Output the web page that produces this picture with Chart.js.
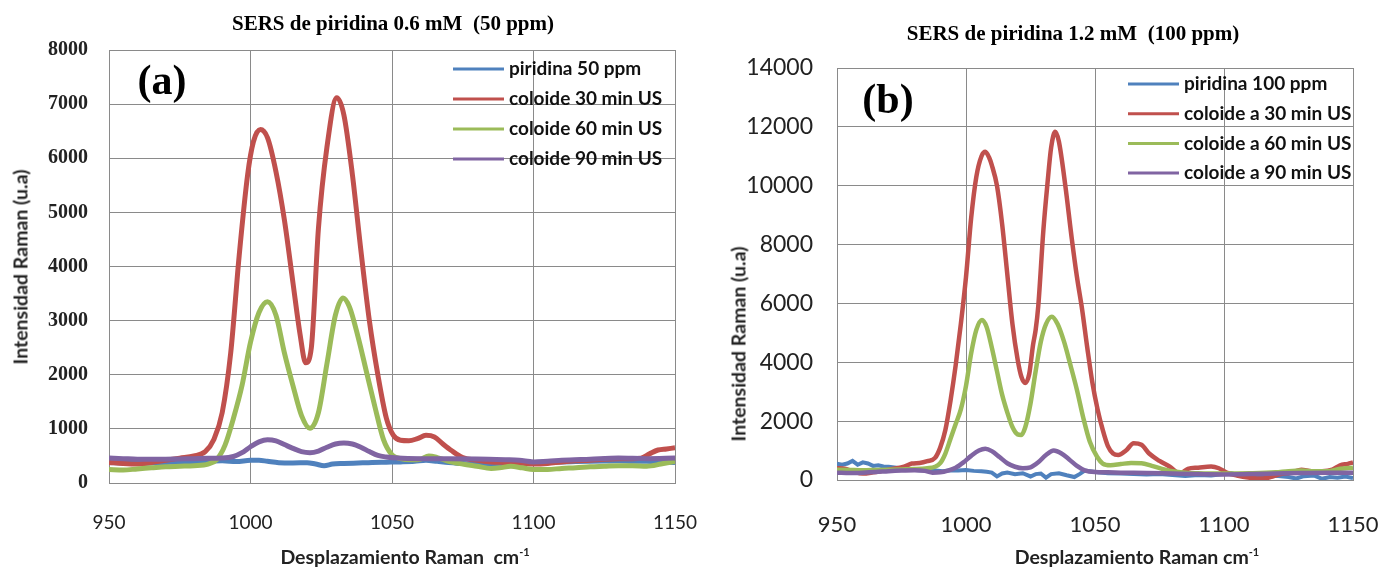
<!DOCTYPE html>
<html>
<head>
<meta charset="utf-8">
<script src="https://cdn.jsdelivr.net/npm/chart.js@4.4.1/dist/chart.umd.min.js"></script>
<style>
  body { margin:0; background:#fff; width:1381px; height:568px; position:relative; overflow:hidden; }
  canvas { position:absolute; top:0; }
  .t { position:absolute; white-space:nowrap; color:#000; }
  .title { font-family:"Liberation Serif", serif; font-weight:bold; font-size:21px; transform:translate(-50%,-50%); }
  .axt { font-family:Lato, sans-serif; font-weight:bold; font-size:19.5px; color:#222; }
  .panel { font-family:"Liberation Serif", serif; font-weight:bold; font-size:42px; transform:translate(-50%,-50%); }
  sup { font-size:11px; }
</style>
</head>
<body>
<canvas id="chartA" width="700" height="568" style="left:0"></canvas>
<canvas id="chartB" width="681" height="568" style="left:700px"></canvas>

<div class="t title" style="left:393px; top:23px;">SERS de piridina 0.6 mM&nbsp; (50 ppm)</div>
<div class="t title" style="left:1073px; top:33px;">SERS de piridina 1.2 mM&nbsp; (100 ppm)</div>
<div class="t panel" style="left:162px; top:80px;">(a)</div>
<div class="t panel" style="left:888px; top:99px;">(b)</div>
<div class="t axt" style="left:20px; top:267px; transform:translate(-50%,-50%) rotate(-90deg);">Intensidad Raman (u.a)</div>
<div class="t axt" style="left:738px; top:344px; transform:translate(-50%,-50%) rotate(-90deg);">Intensidad Raman (u.a)</div>
<div class="t axt" style="left:405px; top:556px; transform:translate(-50%,-50%);">Desplazamiento Raman&nbsp; cm<sup>-1</sup></div>
<div class="t axt" style="left:1137px; top:556px; transform:translate(-50%,-50%);">Desplazamiento Raman cm<sup>-1</sup></div>

<script>
// ---- panel (a): 0.6 mM (50 ppm) ----
var labelsA = ['piridina 50 ppm', 'coloide 30 min US', 'coloide 60 min US', 'coloide 90 min US'];

var aBlueX = [950,955,960,965,970,975,980,985,990,995,1000,1003,1006,1010,1015,1020,1023,1026,1029,1033,1038,1043,1048,1053,1058,1062,1066,1070,1075,1080,1085,1090,1095,1100,1105,1110,1115,1120,1125,1130,1135,1140,1145,1150];
var aBlueY = [380,370,360,370,380,390,395,400,410,395,420,420,400,375,370,375,350,320,350,360,370,380,385,390,400,420,400,380,360,350,350,360,370,380,390,390,395,400,405,410,400,400,390,380];

var aRedX = [950,955,960,965,970,975,980,984,987,990,993,996,999,1001,1003.5,1006,1009,1012,1015,1017.5,1019.5,1021.5,1024,1027,1030.5,1033,1036,1039,1042,1045,1048,1050.5,1053,1056,1059,1062,1065,1068,1071,1075,1080,1085,1090,1095,1100,1105,1110,1115,1120,1125,1130,1135,1138,1141,1144,1147,1150];
var aRedY = [380,360,350,380,420,460,500,580,800,1300,2400,4200,5700,6300,6530,6380,5750,4850,3700,2750,2220,2500,4700,6200,7120,6800,5700,4300,3000,2000,1200,880,790,780,820,880,850,720,600,470,420,390,380,370,350,360,390,410,420,440,450,450,460,540,610,630,650];

var aGreenX = [950,955,960,965,970,975,980,985,988,991,994,997,1000,1003,1006,1009,1012,1015,1018,1021,1024,1027,1030,1032.7,1035,1038,1041,1044,1047,1050,1053,1057,1060,1063,1066,1070,1075,1080,1085,1088,1092,1096,1100,1105,1110,1115,1120,1125,1130,1135,1140,1145,1150];
var aGreenY = [250,240,260,280,300,310,320,350,430,700,1200,1800,2600,3150,3350,3100,2400,1800,1250,1010,1300,2200,3100,3420,3250,2700,2050,1400,800,520,450,430,440,500,470,400,350,310,270,280,310,280,250,250,270,280,300,310,320,320,310,350,400];

var aPurpleX = [950,955,960,965,970,975,980,985,990,994,997,1000,1003,1006,1009,1012,1015,1018,1021,1024,1027,1030,1033,1036,1039,1042,1045,1048,1052,1060,1070,1080,1090,1095,1100,1105,1110,1120,1130,1140,1150];
var aPurpleY = [460,450,440,440,440,445,450,455,460,490,560,670,760,800,780,710,640,580,560,590,660,720,740,720,660,580,510,480,460,450,450,445,430,420,390,400,420,440,460,450,460];

var ticksA = [950, 1000, 1050, 1100, 1150];

// ---- panel (b): 1.2 mM (100 ppm) ----
var labelsB = ['piridina 100 ppm', 'coloide a 30 min US', 'coloide a 60 min US', 'coloide a 90 min US'];

var bBlueX = [950,952,954,956,958,960,962,964,966,968,970,973,976,979,982,985,988,991,994,997,1000,1003,1006,1008,1010,1012,1014,1016,1019,1022,1025,1027,1029,1031,1033,1036,1039,1042,1044,1046,1048,1051,1055,1060,1065,1070,1075,1080,1085,1090,1095,1100,1103,1106,1110,1115,1120,1125,1128,1131,1135,1138,1141,1144,1147,1150];
var bBlueY = [550,520,560,650,520,600,560,480,500,460,450,420,380,350,330,340,320,300,330,320,340,310,300,280,250,120,220,250,200,230,120,200,220,80,200,230,160,100,200,320,300,260,230,220,200,190,200,170,140,170,150,200,230,150,160,120,140,100,50,130,150,40,100,80,120,70];

var bRedX = [950,953,956,960,964,968,972,976,979,982,985,988,990,992,994,996,998,1000,1002,1004,1006,1007.5,1009,1010,1012,1014,1016,1018,1020,1021.5,1023,1024.5,1026,1027,1028,1030,1031.5,1033,1034.6,1036,1038.5,1041,1043,1045,1047,1049,1051,1053,1055,1057,1059,1062,1065,1068,1071,1075,1079,1083,1086,1090,1095,1098,1101,1105,1110,1115,1118,1122,1126,1130,1134,1138,1142,1145,1148,1150];
var bRedY = [400,380,300,220,260,320,380,450,560,580,640,750,1100,1700,2700,3900,5300,6900,8900,10300,11000,11150,10950,10700,10000,8700,7000,5300,4100,3500,3300,3600,4600,5100,5900,8500,10000,11300,11830,11500,10000,8200,6900,5800,4500,3300,2400,1700,1150,900,850,1000,1250,1200,900,650,450,220,380,420,460,400,250,150,80,50,100,200,250,350,300,300,350,500,550,600];

var bGreenX = [950,955,960,965,970,975,980,985,988,990,992,994,996,998,1000,1002,1004,1006.2,1008,1010,1012,1014,1016,1018,1020,1021.4,1023,1025,1027,1029,1031,1033.3,1035.5,1038,1040.5,1043,1045.5,1048,1050.8,1053,1056,1060,1064,1068,1072,1076,1080,1085,1090,1100,1110,1120,1125,1130,1135,1140,1145,1150];
var bGreenY = [350,340,330,340,350,360,370,400,450,570,900,1400,1900,2400,3200,4300,5100,5440,5200,4500,3700,2900,2300,1800,1550,1530,1800,2600,3700,4700,5300,5550,5300,4700,3900,3060,2100,1300,790,560,500,540,580,570,480,380,300,250,230,220,230,260,300,320,300,300,380,420];

var bPurpleX = [950,955,960,965,970,975,980,984,987,990,993,996,999,1002,1005,1007.5,1010,1013,1016,1019,1022,1025,1028,1031,1034,1037,1040,1043,1046,1050,1055,1060,1070,1080,1090,1100,1110,1120,1130,1140,1150];
var bPurpleY = [250,240,250,270,300,320,330,310,250,260,320,420,600,820,1000,1060,980,780,570,450,400,430,600,850,1000,900,700,480,330,270,260,250,240,220,200,190,200,220,240,250,250];

var ticksB = [950, 1000, 1050, 1100, 1150];

var colors = ['#4F81BD', '#C0504D', '#9BBB59', '#8064A2'];

function pts(xs, ys) {
    var out = [];
    for (var i = 0; i < xs.length; i++) {
        out.push({x: xs[i], y: ys[i]});
    }
    return out;
}

function series(label, xs, ys, color, order, width, smooth) {
    return {
        label: label,
        data: pts(xs, ys),
        borderColor: color,
        backgroundColor: color,
        borderWidth: width,
        pointRadius: 0,
        fill: false,
        order: order,
        tension: smooth ? 0.4 : 0,
        cubicInterpolationMode: smooth ? 'monotone' : 'default'
    };
}

// legend drawn inside the plot, like the Excel one
var insideLegend = {
    id: 'insideLegend',
    afterDatasetsDraw: function(chart, args, opts) {
        var ctx = chart.ctx;
        ctx.save();
        ctx.font = opts.font;
        ctx.textBaseline = 'middle';
        ctx.textAlign = 'left';
        for (var i = 0; i < opts.labels.length; i++) {
            var y = opts.y + i * opts.step;
            ctx.strokeStyle = colors[i];
            ctx.lineWidth = 3;
            ctx.beginPath();
            ctx.moveTo(opts.x, y);
            ctx.lineTo(opts.x + opts.len, y);
            ctx.stroke();
            ctx.fillStyle = '#111';
            ctx.fillText(opts.labels[i], opts.x + opts.len + 5, y);
        }
        ctx.restore();
    }
};

function makeChart(id, sets, yMax, yStep, ticks, geo, fonts, legend) {
    var ctx = document.getElementById(id).getContext('2d');
    return new Chart(ctx, {
        type: 'line',
        data: { datasets: sets },
        plugins: [insideLegend],
        options: {
            responsive: false,
            animation: false,
            devicePixelRatio: 1,
            layout: { padding: { top: geo.top, right: geo.right, bottom: 0, left: 0 } },
            plugins: {
                legend: { display: false },
                tooltip: { enabled: false },
                insideLegend: legend
            },
            scales: {
                x: {
                    type: 'linear',
                    min: ticks[0],
                    max: ticks[ticks.length - 1],
                    afterBuildTicks: function(scale) {
                        scale.ticks = ticks.map(function(v) { return {value: v}; });
                    },
                    afterFit: function(scale) {
                        scale.height = geo.xh;
                        scale.paddingLeft = 0;
                        scale.paddingRight = 0;
                    },
                    grid: { color: '#8a8a8a', lineWidth: 1, drawTicks: false },
                    border: { color: '#8a8a8a' },
                    ticks: { padding: geo.xpad, color: '#222', font: fonts.x,
                             callback: function(v) { return String(v); } }
                },
                y: {
                    min: 0,
                    max: yMax,
                    ticks: { stepSize: yStep, padding: geo.ypad, color: '#222', font: fonts.y,
                             callback: function(v) { return String(v); } },
                    afterFit: function(scale) {
                        scale.width = geo.yw;
                        scale.paddingTop = 0;
                        scale.paddingBottom = 0;
                    },
                    grid: { color: '#8a8a8a', lineWidth: 1, drawTicks: false },
                    border: { color: '#8a8a8a' }
                }
            }
        }
    });
}

makeChart('chartA', [
    series(labelsA[0], aBlueX, aBlueY, colors[0], 4, 5, true),
    series(labelsA[1], aRedX, aRedY, colors[1], 3, 5, true),
    series(labelsA[2], aGreenX, aGreenY, colors[2], 2, 5, true),
    series(labelsA[3], aPurpleX, aPurpleY, colors[3], 1, 5, true)
], 8000, 1000, ticksA,
{ top: 50, right: 25, xh: 85, yw: 109, xpad: 28, ypad: 21 },
{ x: { family: 'Lato', size: 19 }, y: { family: 'Liberation Serif', size: 20, weight: 'bold' } },
{ labels: labelsA, x: 453, y: 69, step: 30, len: 51, font: 'bold 19px Lato' });

makeChart('chartB', [
    series(labelsB[0], bBlueX, bBlueY, colors[0], 4, 4, false),
    series(labelsB[1], bRedX, bRedY, colors[1], 3, 4.5, true),
    series(labelsB[2], bGreenX, bGreenY, colors[2], 2, 4.5, true),
    series(labelsB[3], bPurpleX, bPurpleY, colors[3], 1, 4.5, true)
], 14000, 2000, ticksB,
{ top: 68, right: 28, xh: 88, yw: 137, xpad: 32, ypad: 24 },
{ x: { family: 'Lato', size: 22 }, y: { family: 'Lato', size: 23 } },
{ labels: labelsB, x: 428, y: 84, step: 29.7, len: 51, font: 'bold 19px Lato' });
</script>
</body>
</html>
